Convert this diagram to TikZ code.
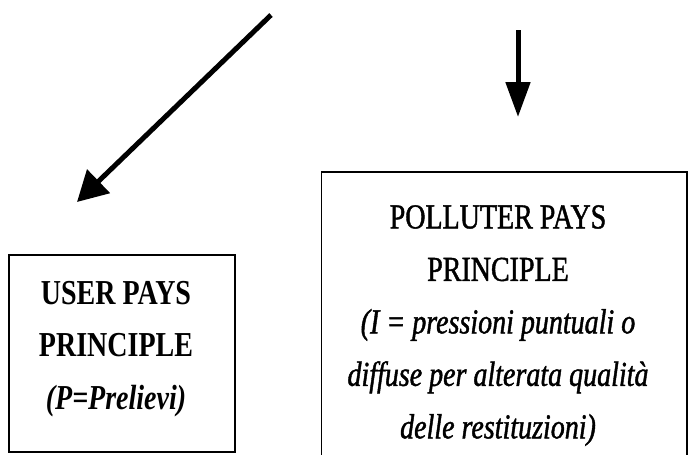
\documentclass[tikz,border=0pt]{standalone}
\usepackage{fontspec}
\setmainfont{Liberation Serif}
\newfontfamily\boxfont[FakeStretch=0.80]{Liberation Serif}
\newfontfamily\boxfontmed[FakeStretch=0.80,FakeBold=1.2]{Liberation Serif}
\usetikzlibrary{arrows.meta}
\begin{document}
\begin{tikzpicture}[x=1pt,y=-1pt,
  boxshape/.style={draw=black,line width=1.6pt,rectangle,inner sep=0pt},
  boxtext/.style={align=center,inner sep=0pt,anchor=north,
    font=\boxfont\fontsize{35}{52.5}\selectfont},
  medtext/.style={boxtext,font=\boxfontmed\fontsize{35}{52.5}\selectfont},
  bigarrow/.style={line width=5pt,-{Triangle[length=30pt,width=32pt]}},
  downarrow/.style={line width=5pt,-{Triangle[length=35pt,width=24pt]}}]
\useasboundingbox (0,0) rectangle (688,455);
% left box
\node[boxshape,minimum width=226pt,minimum height=197pt] (user) at (122,353.5) {};
% right box (bottom edge lies below the picture)
\node[inner sep=0pt,minimum width=365pt,minimum height=320pt] (poll) at (504,332) {};
\draw[line width=1.6pt] (poll.south west) -- (poll.north west) -- (poll.north east) -- (poll.south east);
% texts
\node[boxtext] (usertext) at (116,281)
  {\bfseries USER PAYS\\\bfseries PRINCIPLE\\\bfseries\itshape (P=Prelievi)};
\node[medtext] (polltext) at (498,205)
  {POLLUTER PAYS\\PRINCIPLE\\\itshape (I = pressioni puntuali o\\\itshape diffuse per alterata qualità\\\itshape delle restituzioni)};
% arrows
\coordinate (a1s) at (271,15);
\coordinate (a1e) at (77,202);
\coordinate (a2s) at (518,30);
\coordinate (a2e) at (518,117);
\draw[bigarrow] (a1s) -- (a1e);
\draw[downarrow] (a2s) -- (a2e);
\end{tikzpicture}
\end{document}
